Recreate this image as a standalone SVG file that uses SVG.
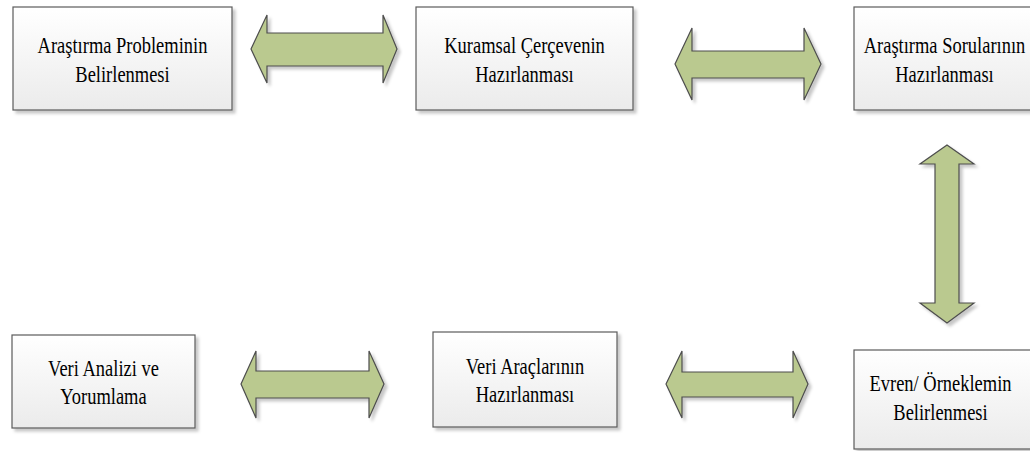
<svg xmlns="http://www.w3.org/2000/svg" width="1030" height="451" viewBox="0 0 1030 451">
<defs>
<linearGradient id="boxg" x1="0" y1="0" x2="0" y2="1">
<stop offset="0" stop-color="#ffffff"/>
<stop offset="1" stop-color="#ebebeb"/>
</linearGradient>
<filter id="sh" x="-10%" y="-10%" width="130%" height="130%">
<feDropShadow dx="3" dy="3" stdDeviation="1.5" flood-color="#000" flood-opacity="0.22"/>
</filter>
</defs>
<style>
.box{fill:url(#boxg);stroke:#5a5a5a;stroke-width:1.2;filter:url(#sh)}
.arr{fill:#bac98f;stroke:#4d4d4d;stroke-width:1.2;stroke-linejoin:miter;filter:url(#sh)}
text{font-size:24px;fill:#000;text-anchor:middle}
</style>
<rect width="1030" height="451" fill="#ffffff"/>
<g id="connectors">
<polygon class="arr" points="251,49 267,15 267,33 383,33 383,15 397,49 383,83 383,66 267,66 267,83"/>
<polygon class="arr" points="675,64 692,28 692,51 804,51 804,28 821,64 804,100 804,78 692,78 692,100"/>
<polygon class="arr" points="947,145 974,164 959,164 959,303 974,303 947,323 920,303 935,303 935,164 920,164"/>
<polygon class="arr" points="666,384 682,351 682,372 793,372 793,351 808,384 793,418 793,397 682,397 682,418"/>
<polygon class="arr" points="241,384 256,351 256,371 369,371 369,351 384,384 369,418 369,398 256,398 256,418"/>
</g>
<g id="n1">
<rect class="box" x="13" y="7" width="219" height="103"/>
<text font-family="'Liberation Serif', 'Times New Roman', serif" transform="translate(122.5,53) scale(0.77,1)"><tspan x="0" y="0">Araştırma Probleminin</tspan><tspan x="0" y="29">Belirlenmesi</tspan></text>
</g>
<g id="n2">
<rect class="box" x="416" y="7" width="217" height="103"/>
<text font-family="'Liberation Serif', 'Times New Roman', serif" transform="translate(524.5,53) scale(0.77,1)"><tspan x="0" y="0">Kuramsal Çerçevenin</tspan><tspan x="0" y="29">Hazırlanması</tspan></text>
</g>
<g id="n3">
<rect class="box" x="854" y="7" width="185" height="103"/>
<text font-family="'Liberation Serif', 'Times New Roman', serif" transform="translate(944.5,53) scale(0.77,1)"><tspan x="0" y="0">Araştırma Sorularının</tspan><tspan x="0" y="29">Hazırlanması</tspan></text>
</g>
<g id="n4">
<rect class="box" x="12" y="335" width="183" height="93"/>
<text font-family="'Liberation Serif', 'Times New Roman', serif" transform="translate(103.5,375.5) scale(0.77,1)"><tspan x="0" y="0">Veri Analizi ve</tspan><tspan x="0" y="29">Yorumlama</tspan></text>
</g>
<g id="n5">
<rect class="box" x="433" y="332" width="184" height="95"/>
<text font-family="'Liberation Serif', 'Times New Roman', serif" transform="translate(525,373.5) scale(0.77,1)"><tspan x="0" y="0">Veri Araçlarının</tspan><tspan x="0" y="29">Hazırlanması</tspan></text>
</g>
<g id="n6">
<rect class="box" x="854" y="350" width="185" height="99"/>
<text font-family="'Liberation Serif', 'Times New Roman', serif" transform="translate(940.5,391) scale(0.77,1)"><tspan x="0" y="0">Evren/ Örneklemin</tspan><tspan x="0" y="29">Belirlenmesi</tspan></text>
</g>
</svg>
